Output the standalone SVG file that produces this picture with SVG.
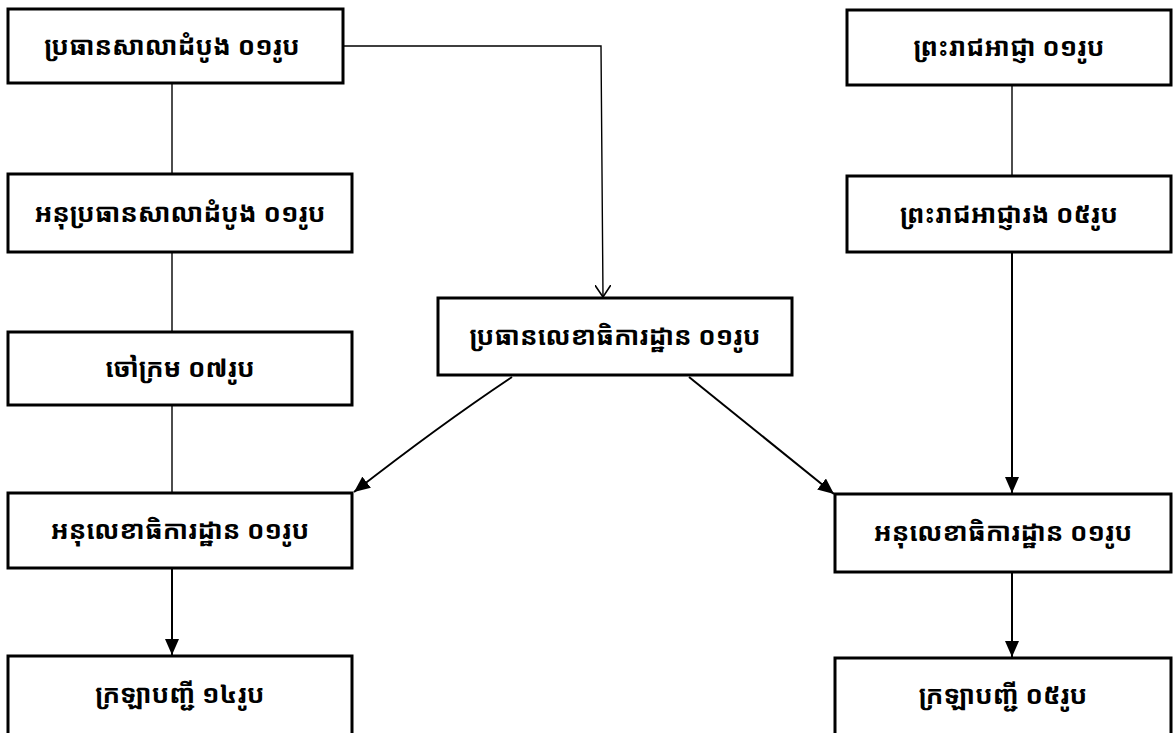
<svg xmlns="http://www.w3.org/2000/svg" width="1173" height="733" viewBox="0 0 1173 733">
<style>
.box{fill:#fff;stroke:#000;stroke-width:3}
.lbl{font-family:"Noto Sans Khmer","Khmer OS Battambang","Noto Sans","DejaVu Sans",sans-serif;font-size:26px;font-weight:bold;fill:#000;text-anchor:middle;dominant-baseline:central}
.ln{fill:none;stroke:#000;stroke-width:1.4}
.ar{fill:none;stroke:#000;stroke-width:2}
</style>
<defs>
<marker id="fb" viewBox="0 0 16 14" refX="16" refY="7" markerWidth="16" markerHeight="14" markerUnits="userSpaceOnUse" orient="auto"><path d="M0,0 L16,7 L0,14 z" fill="#000"/></marker>
<marker id="oa" viewBox="0 0 13 16" refX="12" refY="8" markerWidth="13" markerHeight="16" markerUnits="userSpaceOnUse" orient="auto"><path d="M0,0 L12,8 L0,16" fill="none" stroke="#000" stroke-width="1.6"/></marker>
</defs>
<g id="connectors">
<line class="ln" x1="172" y1="83" x2="172" y2="174"/>
<line class="ln" x1="172" y1="252" x2="172" y2="332"/>
<line class="ln" x1="172" y1="405" x2="172" y2="493"/>
<line class="ar" x1="172" y1="568" x2="172" y2="655" marker-end="url(#fb)"/>
<line class="ln" x1="1012" y1="85" x2="1012" y2="176"/>
<line class="ar" x1="1012" y1="252" x2="1012" y2="493" marker-end="url(#fb)"/>
<line class="ar" x1="1012" y1="572" x2="1012" y2="657" marker-end="url(#fb)"/>
<path class="ln" d="M343,46 L601,46 L603,297" marker-end="url(#oa)"/>
<path class="ar" d="M512,377 Q440,425 354,492" marker-end="url(#fb)"/>
<path class="ar" d="M689,377 L834,494" marker-end="url(#fb)"/>
</g>
<g id="n1"><rect class="box" x="8" y="9" width="335" height="74"/><text class="lbl" x="172" y="45">ប្រធានសាលាដំបូង ០១រូប</text></g>
<g id="n2"><rect class="box" x="8" y="174" width="344" height="78"/><text class="lbl" x="180" y="212">អនុប្រធានសាលាដំបូង ០១រូប</text></g>
<g id="n3"><rect class="box" x="8" y="332" width="344" height="73"/><text class="lbl" x="180" y="367">ចៅក្រម ០៧រូប</text></g>
<g id="n4"><rect class="box" x="8" y="493" width="344" height="75"/><text class="lbl" x="180" y="529">អនុលេខាធិការដ្ឋាន ០១រូប</text></g>
<g id="n5"><rect class="box" x="8" y="656" width="344" height="90"/><text class="lbl" x="180" y="693">ក្រឡាបញ្ជី ១៤រូប</text></g>
<g id="n6"><rect class="box" x="438" y="298" width="354" height="77"/><text class="lbl" x="615" y="335">ប្រធានលេខាធិការដ្ឋាន ០១រូប</text></g>
<g id="n7"><rect class="box" x="847" y="10" width="324" height="75"/><text class="lbl" x="1009" y="46">ព្រះរាជអាជ្ញា ០១រូប</text></g>
<g id="n8"><rect class="box" x="847" y="176" width="324" height="76"/><text class="lbl" x="1009" y="213">ព្រះរាជអាជ្ញារង ០៥រូប</text></g>
<g id="n9"><rect class="box" x="835" y="494" width="336" height="78"/><text class="lbl" x="1003" y="531">អនុលេខាធិការដ្ឋាន ០១រូប</text></g>
<g id="n10"><rect class="box" x="835" y="658" width="336" height="90"/><text class="lbl" x="1003" y="694">ក្រឡាបញ្ជី ០៥រូប</text></g>
</svg>
